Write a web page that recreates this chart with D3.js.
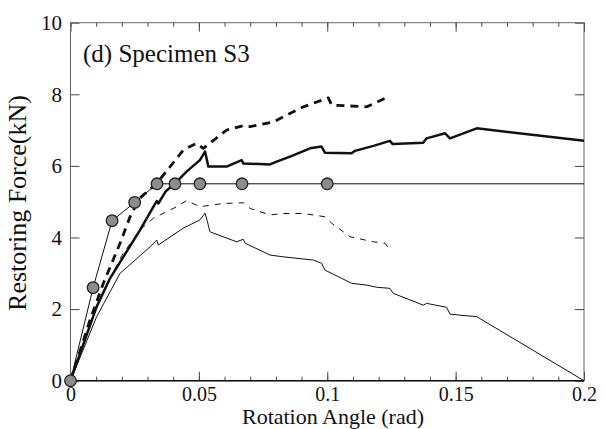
<!DOCTYPE html>
<html>
<head>
<meta charset="utf-8">
<script src="https://cdn.jsdelivr.net/npm/d3@7"></script>
<style>
  body { margin: 0; background: #fff; }
</style>
</head>
<body>
<svg id="chart" width="605" height="429"></svg>
<script>
const FONT = "'Liberation Serif'";

// Tick values
const xMajor = [0, 0.05, 0.1, 0.15, 0.2];
const xMinor = d3.range(0, 0.2001, 0.01);
const yMajor = [0, 2, 4, 6, 8, 10];

// Idealised model (circles + thin line)
const markerAngle = [0, 0.0088, 0.0162, 0.025, 0.0337, 0.0407, 0.0504, 0.0668, 0.1];
const markerForce = [0, 2.6, 4.47, 4.98, 5.5, 5.5, 5.5, 5.5, 5.5];
const idealLine = [[0, 0], [0.0088, 2.6], [0.0162, 4.47], [0.025, 4.98], [0.0337, 5.5], [0.2, 5.5]];

// Thick solid
const thickSolid = [[0, 0], [0.0102, 2.07], [0.0154, 2.86], [0.027, 4.2], [0.0336, 5.02], [0.0342, 4.95],
  [0.0372, 5.3], [0.0407, 5.51], [0.0452, 5.84], [0.0504, 6.16], [0.0524, 6.4], [0.0537, 5.98],
  [0.0608, 5.98], [0.0667, 6.16], [0.0673, 6.07], [0.0777, 6.04], [0.0803, 6.12], [0.0855, 6.26],
  [0.0933, 6.49], [0.0978, 6.54], [0.0991, 6.37], [0.1095, 6.35], [0.1108, 6.42], [0.118, 6.56],
  [0.1244, 6.7], [0.1255, 6.61], [0.1374, 6.65], [0.1387, 6.77], [0.1459, 6.91], [0.1478, 6.77],
  [0.1582, 7.05], [0.2, 6.7]];

// Thick dashed
const thickDashed = [[0, 0], [0.0076, 1.7], [0.0128, 2.72], [0.0193, 3.84], [0.0232, 4.58], [0.027, 5.1],
  [0.0336, 5.51], [0.0388, 5.98], [0.0439, 6.44], [0.049, 6.63], [0.0517, 6.49], [0.0608, 7.0],
  [0.0673, 7.12], [0.07, 7.1], [0.079, 7.23], [0.0907, 7.65], [0.1004, 7.9], [0.1017, 7.7],
  [0.1154, 7.65], [0.1238, 7.93]];

// Thin dashed
const thinDashed = [[0, 0], [0.0095, 2.0], [0.02, 3.5], [0.027, 4.21], [0.0323, 4.54], [0.0414, 4.86],
  [0.0452, 5.03], [0.0504, 4.86], [0.0595, 4.95], [0.0673, 4.97], [0.07, 4.81], [0.0777, 4.63],
  [0.0829, 4.67], [0.0907, 4.67], [0.0991, 4.58], [0.1017, 4.4], [0.1089, 4.02], [0.118, 3.88],
  [0.1225, 3.84], [0.1244, 3.65]];

// Thin solid
const thinSolid = [[0, 0], [0.0102, 1.79], [0.0193, 3.0], [0.031, 3.74], [0.0336, 3.93], [0.0342, 3.79],
  [0.0439, 4.26], [0.0504, 4.49], [0.0524, 4.68], [0.0533, 4.45], [0.0543, 4.16], [0.0647, 3.88],
  [0.0673, 3.95], [0.068, 3.84], [0.0777, 3.51], [0.0829, 3.46], [0.0946, 3.37], [0.0978, 3.28],
  [0.0991, 3.09], [0.1095, 2.72], [0.1154, 2.67], [0.1193, 2.61], [0.1244, 2.58], [0.1257, 2.44],
  [0.1374, 2.11], [0.1387, 2.16], [0.1465, 2.05], [0.1478, 1.86], [0.1517, 1.83], [0.1582, 1.79],
  [0.2, 0]];

const svg = d3.select("#chart");
const margin = { left: 70.5, right: 21, top: 22.7, bottom: 48.3 };
const width = 605 - margin.left - margin.right,
      height = 429 - margin.top - margin.bottom;

const x = d3.scaleLinear().domain([0, 0.2]).range([0, width]);
const y = d3.scaleLinear().domain([0, 10]).range([height, 0]);

const g = svg.append("g").attr("transform", `translate(${margin.left},${margin.top})`);

g.append("clipPath").attr("id", "clip")
  .append("rect").attr("x", -8).attr("y", -2).attr("width", width + 10).attr("height", height + 10);

// axes: minor ticks
g.append("g").attr("transform", `translate(0,${height})`)
  .call(d3.axisBottom(x).tickValues(xMinor).tickSize(-4).tickFormat(""));
g.append("g")
  .call(d3.axisTop(x).tickValues(xMinor).tickSize(-4).tickFormat(""));

// axes: major ticks
g.append("g").attr("class", "xaxis").attr("transform", `translate(0,${height})`)
  .call(d3.axisBottom(x).tickValues(xMajor).tickSize(-9).tickPadding(6).tickFormat(d => String(+d.toFixed(2))));
g.append("g")
  .call(d3.axisTop(x).tickValues(xMajor).tickSize(-9).tickFormat(""));
g.append("g").attr("class", "yaxis")
  .call(d3.axisLeft(y).tickValues(yMajor).tickSize(-9).tickPadding(8.5));
g.append("g").attr("transform", `translate(${width},0)`)
  .call(d3.axisRight(y).tickValues(yMajor).tickSize(-9).tickFormat(""));

g.selectAll(".domain").remove();
g.selectAll(".tick line").attr("stroke", "#444");
g.selectAll(".xaxis, .yaxis").attr("font-family", null).attr("font-size", null);
g.selectAll(".xaxis text")
  .style("font-family", FONT).style("font-size", "20px").attr("fill", "#111");
g.selectAll(".yaxis text")
  .style("font-family", FONT).style("font-size", "21px").attr("fill", "#111");

// frame
g.append("rect").attr("width", width).attr("height", height)
  .attr("fill", "none").attr("stroke", "#666").attr("stroke-width", 1);
g.append("line").attr("x1", 0).attr("x2", width).attr("y1", height).attr("y2", height)
  .attr("stroke", "#111").attr("stroke-width", 1.6);

const line = d3.line().x(d => x(d[0])).y(d => y(d[1]));
const plot = g.append("g").attr("clip-path", "url(#clip)");

const series = [
  { data: thinSolid, w: 1, dash: null },
  { data: thinDashed, w: 1, dash: "6,6" },
  { data: idealLine, w: 1, dash: null },
  { data: thickDashed, w: 2.8, dash: "8,6" },
  { data: thickSolid, w: 2.5, dash: null }
];

plot.selectAll("path.series").data(series).enter().append("path")
  .attr("class", "series")
  .attr("d", d => line(d.data))
  .attr("fill", "none")
  .attr("stroke", "#111")
  .attr("stroke-width", d => d.w)
  .attr("stroke-dasharray", d => d.dash)
  .attr("stroke-linejoin", "round");

plot.selectAll("circle").data(markerAngle).enter().append("circle")
  .attr("cx", d => x(d))
  .attr("cy", (d, i) => y(markerForce[i]))
  .attr("r", 5.8)
  .attr("fill", "#8c8c8c")
  .attr("stroke", "#222")
  .attr("stroke-width", 1.3);

// labels
g.append("text").attr("x", 12.5).attr("y", 39.5)
  .style("font-family", FONT).style("font-size", "25px").attr("fill", "#111")
  .text("(d) Specimen S3");

svg.append("text").attr("x", 333).attr("y", 424.3).attr("text-anchor", "middle")
  .style("font-family", FONT).style("font-size", "22px").attr("fill", "#111")
  .text("Rotation Angle (rad)");

svg.append("text").attr("transform", "translate(26,203) rotate(-90)")
  .attr("text-anchor", "middle")
  .style("font-family", FONT).style("font-size", "26px").attr("fill", "#111")
  .text("Restoring Force(kN)");
</script>
</body>
</html>
